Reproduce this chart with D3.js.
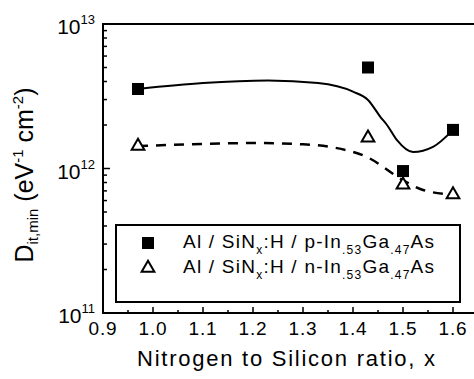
<!DOCTYPE html>
<html><head><meta charset="utf-8">
<script src="https://cdn.jsdelivr.net/npm/d3@7"></script>
<style>body{margin:0;background:#fff}svg{display:block}text{font-family:"Liberation Sans",Arial,sans-serif;fill:#000}</style>
</head><body>
<svg id="c" width="474" height="379"></svg>
<script>
// Data
const pX = [0.97, 1.43, 1.50, 1.60];
const pY = [3.55e12, 5.0e12, 9.6e11, 1.85e12];
const nX = [0.97, 1.43, 1.50, 1.60];
const nY = [1.43e12, 1.63e12, 7.7e11, 6.6e11];
// fit curves
const fitPX = [0.97, 1.10, 1.23, 1.33, 1.40, 1.43, 1.455, 1.468, 1.488, 1.52, 1.56, 1.60];
const fitPY = [3.55e12, 3.9e12, 4.06e12, 3.9e12, 3.4e12, 2.98e12, 2.27e12, 2.0e12, 1.57e12, 1.30e12, 1.41e12, 1.85e12];
const fitNX = [0.97, 1.10, 1.20, 1.30, 1.36, 1.428, 1.50, 1.54, 1.60];
const fitNY = [1.43e12, 1.48e12, 1.5e12, 1.47e12, 1.40e12, 1.2e12, 8.3e11, 7.1e11, 6.6e11];
const xTicks = [0.9, 1.0, 1.1, 1.2, 1.3, 1.4, 1.5, 1.6];
const yTicks = [1e11, 1e12, 1e13];
const yExp = ["11", "12", "13"];

const svg = d3.select("#c");
const L = 103, T = 24, B = 313;
const x = d3.scaleLinear().domain([0.9, 1.65]).range([L, L + 375]);
const y = d3.scaleLog().domain([1e11, 1e13]).range([B, T]);
const R = x(1.65);

// frame
const g = svg.append("g");
g.append("path").attr("d", `M${L},${B}V${T}H${R}V${B}Z`).attr("fill", "none").attr("stroke", "#000").attr("stroke-width", 2);

// x ticks inward
const xMinor = d3.range(0.9, 1.651, 0.05);
xMinor.forEach((v, i) => {
  const major = i % 2 === 0;
  g.append("line").attr("x1", x(v)).attr("x2", x(v)).attr("y1", B).attr("y2", B - (major ? 6 : 3)).attr("stroke", "#000").attr("stroke-width", 1.5);
});
xTicks.forEach(v => {
  g.append("text").attr("x", x(v)).attr("y", 335).attr("text-anchor", "middle").attr("font-size", 19).attr("letter-spacing", 0.8).text(v.toFixed(1));
});

// y ticks inward
for (let e = 11; e < 13; e++) {
  for (let m = 1; m <= 9; m++) {
    const v = m * Math.pow(10, e);
    g.append("line").attr("x1", L).attr("x2", L + (m === 1 ? 7 : 4)).attr("y1", y(v)).attr("y2", y(v)).attr("stroke", "#000").attr("stroke-width", 1.5);
  }
}
yTicks.forEach((v, i) => {
  const t = g.append("text").attr("x", 95).attr("y", y(v) + 10).attr("text-anchor", "end").attr("font-size", 21);
  t.append("tspan").text("10");
  t.append("tspan").attr("dy", -10).attr("font-size", 13).text(yExp[i]);
});

// axis titles
g.append("text").attr("x", 286).attr("y", 366).attr("text-anchor", "middle").attr("font-size", 22)
  .attr("textLength", 298).attr("lengthAdjust", "spacing").text("Nitrogen to Silicon ratio, x");
const yt = g.append("text").attr("transform", "translate(33,175) rotate(-90)").attr("text-anchor", "middle").attr("font-size", 25);
yt.append("tspan").text("D");
yt.append("tspan").attr("font-size", 15).attr("dy", 5).text("it,min");
yt.append("tspan").attr("dy", -5).text(" (eV");
yt.append("tspan").attr("font-size", 15).attr("dy", -10).text("-1");
yt.append("tspan").attr("dy", 10).text(" cm");
yt.append("tspan").attr("font-size", 15).attr("dy", -10).text("-2");
yt.append("tspan").attr("dy", 10).text(")");

// curves
const line = d3.line().x(d => x(d[0])).y(d => y(d[1])).curve(d3.curveMonotoneX);
g.append("path").attr("d", line(d3.zip(fitPX, fitPY))).attr("fill", "none").attr("stroke", "#000").attr("stroke-width", 2);
g.append("path").attr("d", line(d3.zip(fitNX, fitNY))).attr("fill", "none").attr("stroke", "#000").attr("stroke-width", 2.5).attr("stroke-dasharray", "10,8");

// markers
const sq = 12;
pX.forEach((v, i) => {
  g.append("rect").attr("x", x(v) - sq / 2).attr("y", y(pY[i]) - sq / 2).attr("width", sq).attr("height", sq).attr("fill", "#000");
});
const tri = d3.symbol().type(d3.symbolTriangle).size(70);
nX.forEach((v, i) => {
  g.append("path").attr("d", tri()).attr("transform", `translate(${x(v)},${y(nY[i])})`).attr("fill", "#fff").attr("stroke", "#000").attr("stroke-width", 2);
});

// legend
g.append("rect").attr("x", 116).attr("y", 225).attr("width", 344).attr("height", 77).attr("fill", "#fff").attr("stroke", "#000").attr("stroke-width", 2);
g.append("rect").attr("x", 148 - sq / 2).attr("y", 243 - sq / 2).attr("width", sq).attr("height", sq).attr("fill", "#000");
g.append("path").attr("d", tri()).attr("transform", "translate(148,268)").attr("fill", "#fff").attr("stroke", "#000").attr("stroke-width", 2);
const labels = ["p", "n"];
labels.forEach((p, i) => {
  const t = g.append("text").attr("x", 183).attr("y", 248 + i * 25).attr("font-size", 19)
    .attr("textLength", 251).attr("lengthAdjust", "spacing");
  t.append("tspan").text("Al / SiN");
  t.append("tspan").attr("font-size", 12).attr("dy", 6).text("x");
  t.append("tspan").attr("dy", -6).text(":H / " + p + "-In");
  t.append("tspan").attr("font-size", 12).attr("dy", 6).text(".53");
  t.append("tspan").attr("dy", -6).text("Ga");
  t.append("tspan").attr("font-size", 12).attr("dy", 6).text(".47");
  t.append("tspan").attr("dy", -6).text("As");
});
</script>
</body></html>
